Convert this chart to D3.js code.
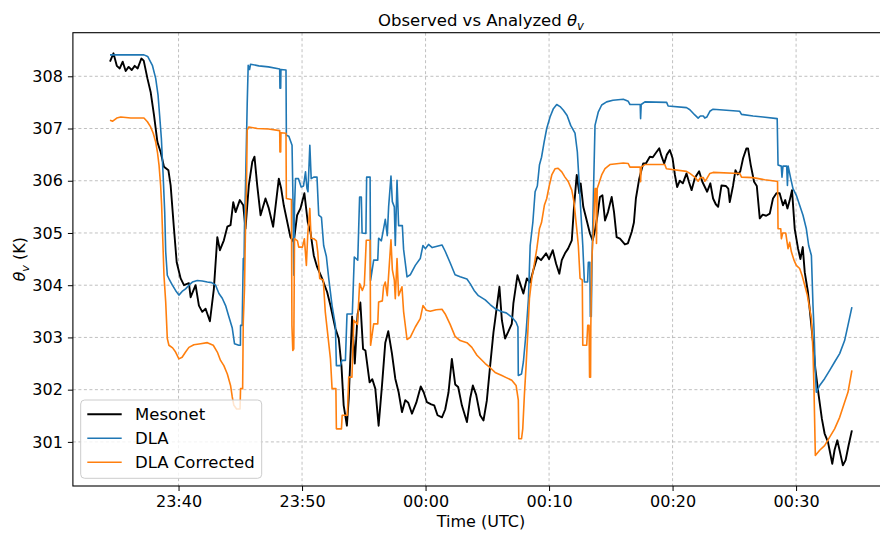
<!DOCTYPE html>
<html>
<head>
<meta charset="utf-8">
<script src="https://cdn.jsdelivr.net/npm/d3@7"></script>
<style>
  html, body { margin: 0; padding: 0; background: #fff; }
  svg { display: block; font-family: "DejaVu Sans", sans-serif; }
</style>
</head>
<body>
<svg id="chart" width="880" height="533"></svg>
<script>
// times = minutes relative to 00:00 UTC (negative = before midnight), theta_v in K
var mesonetTime = [-25.55,-25.27,-25.00,-24.76,-24.52,-24.28,-24.04,-23.79,-23.55,-23.31,-23.01,-22.82,-22.52,-22.26,-21.99,-21.71,-21.45,-21.18,-20.82,-20.64,-20.37,-20.15,-19.83,-19.56,-19.16,-19.02,-18.62,-18.35,-18.08,-17.81,-17.46,-17.14,-16.86,-16.65,-16.33,-16.05,-15.79,-15.57,-15.38,-15.04,-14.76,-14.58,-14.31,-14.03,-13.85,-13.63,-13.36,-12.96,-12.69,-12.34,-11.88,-11.69,-11.48,-10.94,-10.67,-10.40,-10.13,-9.81,-9.54,-9.32,-9.05,-8.78,-8.38,-7.97,-7.70,-7.30,-7.03,-6.81,-6.63,-6.37,-6.22,-5.95,-5.73,-5.50,-5.28,-5.06,-4.87,-4.53,-4.31,-4.07,-3.80,-3.52,-3.26,-3.02,-2.72,-2.45,-2.18,-1.91,-1.64,-1.40,-1.10,-0.75,-0.39,-0.15,0.11,0.46,0.70,0.97,1.33,1.59,1.86,2.13,2.40,2.64,2.94,3.35,3.61,3.83,4.10,4.42,4.69,4.96,5.23,5.50,5.63,5.98,6.18,6.44,6.68,6.98,7.11,7.44,7.66,7.92,8.20,8.46,8.73,9.05,9.35,9.76,10.00,10.30,10.57,10.83,11.03,11.29,11.54,11.84,12.02,12.24,12.45,12.56,12.77,13.05,13.31,13.53,13.72,13.90,14.12,14.32,14.53,14.77,15.07,15.26,15.47,15.74,16.14,16.38,16.69,16.87,17.03,17.30,17.62,17.84,18.16,18.40,18.70,18.92,19.09,19.32,19.54,19.78,20.00,20.19,20.37,20.59,20.83,21.13,21.32,21.54,21.80,22.15,22.41,22.80,23.06,23.28,23.50,23.69,23.96,24.31,24.51,24.63,24.90,25.09,25.28,25.48,25.71,25.98,26.11,26.33,26.60,26.82,27.06,27.30,27.58,27.87,28.13,28.41,28.67,28.94,29.12,29.30,29.48,29.67,29.89,30.16,30.35,30.54,30.70,30.96,31.18,31.37,31.56,31.83,32.09,32.31,32.58,32.80,32.93,33.12,33.34,33.56,33.79,34.01,34.25,34.52];
var mesonetTheta = [308.28,308.44,308.20,308.15,308.28,308.10,308.18,308.12,308.20,308.15,308.34,308.30,307.96,307.70,307.26,306.74,306.55,306.27,306.20,305.91,305.08,304.44,304.13,304.00,304.04,303.77,304.00,303.61,303.49,303.55,303.31,303.93,304.92,304.67,304.86,305.12,305.15,305.59,305.40,305.63,305.53,305.08,305.91,306.36,306.46,305.91,305.34,305.66,305.47,305.12,306.04,305.85,305.53,304.92,304.83,305.34,305.47,305.76,305.21,305.02,304.57,304.35,304.13,303.87,303.61,303.17,302.98,302.46,301.70,301.31,301.83,303.40,302.50,303.45,303.67,302.78,302.75,302.14,302.20,302.02,301.31,302.10,302.90,303.12,302.69,302.21,301.95,301.57,301.80,301.75,301.54,301.75,302.06,301.95,301.76,301.72,301.70,301.51,301.47,301.62,301.95,302.59,302.10,302.05,301.70,301.38,301.83,302.08,301.90,301.51,301.41,301.79,302.46,303.10,303.33,303.97,303.33,302.98,303.10,303.26,303.65,304.19,304.03,303.84,304.13,304.05,304.29,304.54,304.48,304.61,304.50,304.67,304.41,304.22,304.48,304.61,304.70,304.86,305.50,306.11,305.76,305.95,305.50,305.24,304.99,304.86,305.05,305.31,305.69,305.72,305.24,305.40,305.69,305.40,304.92,304.89,304.78,304.80,305.02,305.20,305.66,306.04,306.33,306.33,306.46,306.45,306.55,306.62,306.48,306.33,306.50,306.59,306.43,306.11,305.88,306.00,305.95,306.14,305.98,305.82,306.05,306.18,305.98,305.79,305.95,305.66,305.55,305.50,305.91,305.90,305.85,305.59,305.91,306.20,306.12,306.18,306.43,306.62,306.62,306.30,305.98,305.90,305.28,305.35,305.33,305.37,305.66,305.76,305.76,305.53,305.63,305.47,305.62,305.82,305.08,304.70,304.50,304.73,304.25,303.87,303.36,302.91,302.40,301.89,301.44,301.16,301.00,300.74,300.58,300.85,301.03,300.80,300.55,300.65,300.93,301.22];

var dlaTime = [-25.55,-22.80,-22.50,-22.12,-21.85,-21.66,-21.53,-21.39,-21.26,-21.12,-21.04,-20.91,-20.73,-20.50,-20.24,-19.97,-19.71,-19.43,-19.16,-18.88,-18.48,-18.08,-17.67,-17.32,-17.00,-16.73,-16.46,-16.19,-15.93,-15.65,-15.47,-15.12,-14.99,-14.98,-14.85,-14.76,-14.70,-14.66,-14.58,-14.44,-14.36,-14.25,-14.17,-13.50,-12.72,-11.81,-11.79,-11.73,-11.71,-11.30,-11.27,-11.07,-10.81,-10.74,-10.67,-10.61,-10.53,-10.29,-10.07,-9.88,-9.72,-9.60,-9.52,-9.37,-9.26,-9.05,-8.79,-8.65,-8.43,-8.25,-8.03,-7.84,-7.57,-7.30,-7.22,-6.90,-6.78,-6.49,-6.36,-5.93,-5.77,-5.49,-5.34,-5.20,-5.14,-4.83,-4.77,-4.49,-4.45,-4.20,-3.87,-3.80,-3.58,-3.46,-3.26,-3.10,-2.99,-2.80,-2.69,-2.53,-2.45,-2.31,-2.18,-1.88,-1.78,-1.50,-1.24,-0.83,-0.43,-0.21,-0.02,0.24,0.54,0.86,1.33,1.59,1.99,2.39,2.80,3.35,3.61,3.93,4.28,4.83,5.23,5.63,6.18,6.53,6.98,7.33,7.48,7.51,7.77,7.92,8.14,8.33,8.47,8.69,8.87,9.05,9.22,9.39,9.60,9.81,10.08,10.35,10.62,10.89,11.16,11.46,11.75,12.10,12.29,12.51,12.73,12.86,13.12,13.18,13.30,13.34,13.42,13.48,13.59,13.72,13.99,14.26,14.66,15.17,16.01,16.41,16.55,17.38,17.41,17.46,17.76,19.52,19.64,21.13,21.40,21.80,22.07,22.25,22.49,22.61,22.77,23.02,23.28,25.44,25.58,26.52,27.32,28.47,28.54,28.80,28.86,28.94,29.24,29.30,29.36,29.56,29.75,30.02,30.29,30.56,30.83,31.02,31.24,31.37,31.45,31.56,31.64,31.75,31.91,32.31,32.72,33.12,33.53,33.93,34.20,34.52];
var dlaTheta = [308.41,308.41,308.38,308.21,307.96,307.64,307.25,306.81,306.17,305.40,304.64,304.19,304.10,304.00,303.90,303.81,303.88,303.93,304.00,304.06,304.09,304.08,304.06,304.05,304.00,303.84,303.75,303.61,303.40,303.18,302.88,302.85,302.85,303.23,303.23,304.51,304.30,305.12,305.88,307.48,308.21,308.13,308.23,308.20,308.18,308.14,307.77,307.77,308.13,308.12,306.87,306.85,306.68,305.72,304.19,305.50,306.04,306.04,305.88,305.90,306.17,305.85,305.79,306.68,306.04,306.07,306.07,305.34,305.30,304.76,304.55,304.13,303.61,303.23,302.46,302.46,302.56,302.56,303.45,303.45,304.54,304.48,305.69,305.69,305.00,304.99,306.07,306.07,304.09,304.48,304.48,304.90,304.85,305.00,305.26,304.95,305.50,306.09,305.60,305.50,304.76,306.01,305.14,305.14,304.69,304.16,304.20,304.38,304.51,304.76,304.70,304.78,304.72,304.74,304.77,304.65,304.43,304.20,304.16,304.12,304.03,303.90,303.80,303.72,303.63,303.55,303.49,303.47,303.39,303.29,303.20,302.27,302.30,302.53,303.10,303.74,304.76,305.21,305.79,305.90,306.30,306.45,306.74,307.00,307.22,307.38,307.46,307.42,307.35,307.25,307.06,306.91,306.55,305.66,304.76,304.06,304.06,304.44,304.44,303.40,303.40,304.50,305.72,307.06,307.32,307.45,307.51,307.54,307.56,307.52,307.46,307.46,307.19,307.46,307.51,307.50,307.43,307.40,307.36,307.26,307.20,307.24,307.24,307.20,307.22,307.33,307.37,307.33,307.27,307.24,307.22,307.19,306.30,306.28,306.07,306.28,306.28,305.91,306.28,306.05,305.85,305.72,305.53,305.34,305.08,304.76,304.57,303.61,303.17,302.34,301.95,302.00,302.08,302.21,302.37,302.53,302.69,302.94,303.23,303.58];

var corrTime = [-25.55,-25.33,-25.00,-24.68,-23.87,-22.80,-22.52,-22.26,-22.05,-21.85,-21.71,-21.58,-21.45,-21.37,-21.26,-21.18,-21.04,-20.91,-20.78,-20.48,-20.24,-19.97,-19.71,-19.43,-19.16,-18.76,-18.21,-17.67,-17.19,-16.86,-16.60,-16.33,-16.05,-15.79,-15.65,-15.52,-15.30,-15.02,-14.98,-14.81,-14.76,-14.66,-14.55,-14.50,-14.44,-14.31,-13.63,-12.72,-11.81,-11.79,-11.73,-11.71,-11.30,-11.27,-10.86,-10.82,-10.75,-10.67,-10.61,-10.37,-10.27,-9.97,-9.81,-9.65,-9.54,-9.37,-9.27,-9.05,-8.84,-8.73,-8.57,-8.28,-8.12,-7.97,-7.70,-7.57,-7.26,-7.22,-6.81,-6.75,-6.33,-6.22,-5.96,-5.81,-5.51,-5.34,-5.12,-4.96,-4.80,-4.49,-4.45,-4.20,-3.87,-3.80,-3.50,-3.40,-3.26,-3.10,-2.91,-2.80,-2.69,-2.53,-2.45,-2.31,-2.18,-1.91,-1.78,-1.50,-1.24,-0.83,-0.43,-0.21,0.06,0.38,0.86,1.33,1.59,1.99,2.39,2.80,3.35,3.75,4.16,4.83,5.23,5.63,6.18,6.53,6.98,7.33,7.51,7.55,7.77,7.87,8.00,8.14,8.28,8.41,8.60,8.79,9.01,9.22,9.39,9.62,9.81,10.02,10.22,10.49,10.73,11.03,11.29,11.56,11.84,12.02,12.24,12.37,12.51,12.69,12.73,13.05,13.13,13.24,13.28,13.36,13.38,13.45,13.58,13.72,13.80,13.84,13.90,14.04,14.26,14.53,14.93,16.01,16.41,16.55,17.38,17.41,17.46,17.76,19.37,19.50,21.13,21.40,21.80,22.07,22.25,22.49,22.61,22.77,23.02,23.28,25.44,25.58,26.51,27.46,28.41,28.50,28.54,28.76,28.81,28.92,29.16,29.35,29.48,29.62,29.83,30.02,30.29,30.48,30.70,30.91,31.10,31.24,31.37,31.45,31.56,31.91,32.31,32.72,33.12,33.53,33.93,34.20,34.52];
var corrTheta = [307.16,307.14,307.20,307.22,307.20,307.20,307.13,307.03,306.91,306.74,306.55,306.30,305.91,305.53,304.76,304.19,303.68,302.98,302.85,302.80,302.72,302.59,302.62,302.72,302.81,302.86,302.88,302.90,302.85,302.72,302.56,302.46,302.30,302.08,301.86,301.70,301.63,301.63,302.02,302.02,303.29,303.93,305.50,305.85,306.97,307.03,307.00,306.99,306.96,306.55,306.55,306.92,306.91,305.66,305.64,303.23,302.75,302.78,304.89,304.85,304.73,304.73,304.89,304.38,304.96,305.47,304.90,304.89,304.85,304.64,304.13,304.10,303.49,303.17,302.59,302.02,302.02,301.25,301.25,301.51,301.51,302.24,302.24,303.33,303.25,304.03,303.90,304.00,304.86,304.86,302.85,303.26,303.26,303.68,303.70,303.97,304.06,303.80,304.48,304.87,304.30,304.10,303.74,304.51,303.80,303.97,303.50,302.96,303.00,303.20,303.36,303.61,303.52,303.50,303.53,303.54,303.45,303.25,303.02,302.94,302.90,302.81,302.66,302.50,302.42,302.33,302.27,302.23,302.18,302.08,301.80,301.06,301.06,301.25,301.89,302.46,303.10,303.74,304.13,304.38,304.70,305.08,305.20,305.53,305.66,305.91,306.11,306.23,306.24,306.17,306.07,305.98,305.82,305.59,305.08,304.76,304.13,304.10,302.85,302.85,303.23,303.23,302.24,302.24,303.17,304.44,305.02,305.85,305.85,304.80,305.85,305.95,306.11,306.23,306.31,306.34,306.33,306.26,306.26,305.98,306.26,306.31,306.31,306.23,306.18,306.14,306.07,305.99,306.06,306.06,305.99,306.04,306.14,306.16,306.14,306.07,306.06,306.02,305.99,305.98,305.08,305.08,304.89,305.00,305.00,304.70,304.82,304.64,304.48,304.38,304.32,304.19,304.00,303.81,303.55,303.36,302.72,302.02,300.74,300.84,300.93,301.09,301.25,301.47,301.76,301.95,302.37];

var seriesNames = ['Mesonet', 'DLA', 'DLA Corrected'];
var seriesColors = ['#000000', '#1f77b4', '#ff7f0e'];
var yTicks = [301, 302, 303, 304, 305, 306, 307, 308];

(function () {
    var W = 880, H = 533;
    // axes box; the right spine falls just outside the picture (figure was cropped)
    var m = { left: 72.9, right: 889, top: 32.7, bottom: 486 };
    var BASE = Date.UTC(2024, 0, 1, 0, 0, 0);

    function toDate(min) { return new Date(BASE + min * 60000); }
    function zip(ts, vs) {
        return ts.map(function (t, i) { return { t: toDate(t), v: vs[i] }; });
    }

    var series = [
        zip(mesonetTime, mesonetTheta),
        zip(dlaTime, dlaTheta),
        zip(corrTime, corrTheta)
    ];

    // matplotlib-like 5% padding around the data extent
    var allT = mesonetTime.concat(dlaTime, corrTime);
    var allV = mesonetTheta.concat(dlaTheta, corrTheta);
    var t0 = d3.min(allT), t1 = d3.max(allT), tp = (t1 - t0) * 0.05;
    var v0 = d3.min(allV), v1 = d3.max(allV), vp = (v1 - v0) * 0.05;

    var x = d3.scaleUtc().domain([toDate(t0 - tp), toDate(t1 + tp)]).range([m.left, m.right]);
    var y = d3.scaleLinear().domain([v0 - vp, v1 + vp]).range([m.bottom, m.top]);

    var svg = d3.select('#chart');
    svg.append('rect').attr('width', W).attr('height', H).attr('fill', '#fff');

    var xTicks = x.ticks(d3.utcMinute.every(10));
    var fmt = d3.utcFormat('%H:%M');

    // grid
    var grid = svg.append('g').attr('stroke', '#b0b0b0').attr('stroke-width', 0.8)
        .attr('stroke-dasharray', '3,2.5');
    xTicks.forEach(function (d) {
        grid.append('line').attr('x1', x(d)).attr('x2', x(d)).attr('y1', m.top).attr('y2', m.bottom);
    });
    yTicks.forEach(function (d) {
        grid.append('line').attr('x1', m.left).attr('x2', m.right).attr('y1', y(d)).attr('y2', y(d));
    });

    // series
    svg.append('defs').append('clipPath').attr('id', 'plotClip')
        .append('rect').attr('x', m.left).attr('y', m.top)
        .attr('width', m.right - m.left).attr('height', m.bottom - m.top);

    var line = d3.line()
        .x(function (d) { return x(d.t); })
        .y(function (d) { return y(d.v); });

    var lines = svg.append('g').attr('clip-path', 'url(#plotClip)');
    series.forEach(function (s, i) {
        lines.append('path')
            .datum(s)
            .attr('d', line)
            .attr('fill', 'none')
            .attr('stroke', seriesColors[i])
            .attr('stroke-width', i === 0 ? 1.9 : 1.6)
            .attr('stroke-linejoin', 'round');
    });

    // axes
    var xAxis = d3.axisBottom(x).tickValues(xTicks).tickFormat(fmt).tickSize(5).tickPadding(5);
    var yAxis = d3.axisLeft(y).tickValues(yTicks).tickFormat(d3.format('d')).tickSize(5).tickPadding(5);

    var gx = svg.append('g').attr('transform', 'translate(0,' + m.bottom + ')').call(xAxis);
    var gy = svg.append('g').attr('transform', 'translate(' + m.left + ',0)').call(yAxis);
    [gx, gy].forEach(function (g) {
        g.select('.domain').remove();
        g.selectAll('line').attr('stroke', '#000').attr('stroke-width', 1);
        g.selectAll('text').attr('fill', '#000').attr('font-size', 16)
            .attr('font-family', '"DejaVu Sans", sans-serif');
    });

    // spines (right one is outside the cropped picture)
    svg.append('rect')
        .attr('x', m.left).attr('y', m.top)
        .attr('width', m.right - m.left).attr('height', m.bottom - m.top)
        .attr('fill', 'none').attr('stroke', '#000').attr('stroke-width', 1.1);

    // title
    var title = svg.append('text')
        .attr('x', (m.left + m.right) / 2).attr('y', 26)
        .attr('text-anchor', 'middle').attr('font-size', 16.5).attr('fill', '#000');
    title.append('tspan').text('Observed vs Analyzed ');
    title.append('tspan').attr('font-style', 'italic').text('θ');
    title.append('tspan').attr('font-style', 'italic').attr('font-size', '70%').attr('dy', 4).text('v');

    // x label
    svg.append('text')
        .attr('x', (m.left + m.right) / 2).attr('y', 527)
        .attr('text-anchor', 'middle').attr('font-size', 16).attr('fill', '#000')
        .text('Time (UTC)');

    // y label
    var yl = svg.append('text')
        .attr('transform', 'translate(25,' + ((m.top + m.bottom) / 2) + ') rotate(-90)')
        .attr('text-anchor', 'middle').attr('font-size', 16).attr('fill', '#000');
    yl.append('tspan').attr('font-style', 'italic').text('θ');
    yl.append('tspan').attr('font-style', 'italic').attr('font-size', '70%').attr('dy', 4).text('v');
    yl.append('tspan').attr('dy', -4).text(' (K)');

    // legend
    var lg = svg.append('g').attr('transform', 'translate(80.7,400)');
    lg.append('rect')
        .attr('width', 181).attr('height', 78.3).attr('rx', 4)
        .attr('fill', '#fff').attr('fill-opacity', 0.8)
        .attr('stroke', '#cccccc').attr('stroke-width', 1);
    seriesNames.forEach(function (name, i) {
        var yy = 14.3 + i * 24;
        lg.append('line')
            .attr('x1', 6.6).attr('x2', 41).attr('y1', yy).attr('y2', yy)
            .attr('stroke', seriesColors[i]).attr('stroke-width', i === 0 ? 1.9 : 1.6);
        lg.append('text')
            .attr('x', 54.3).attr('y', yy + 6)
            .attr('font-size', 16.5).attr('fill', '#000')
            .text(name);
    });
})();
</script>
</body>
</html>
